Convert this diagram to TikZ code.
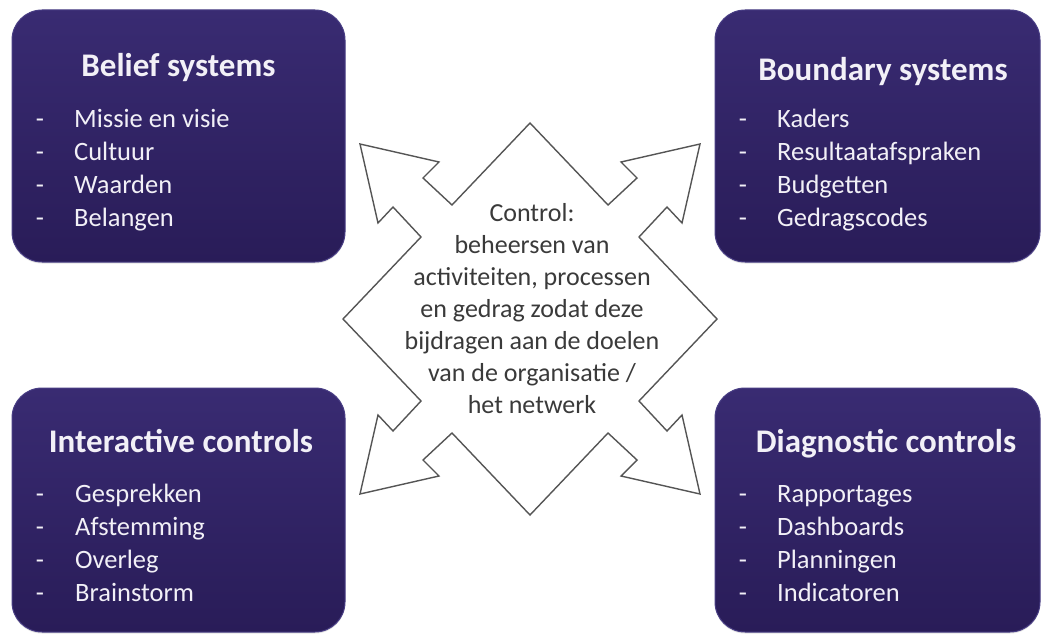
\documentclass[tikz,border=0pt]{standalone}
\usepackage{fontspec}
\setmainfont{Carlito}
\usetikzlibrary{shadows}
\definecolor{boxtop}{HTML}{392B72}
\definecolor{boxbot}{HTML}{291C58}
\definecolor{boxedge}{HTML}{483D84}
\definecolor{txtw}{HTML}{F2F0F7}
\definecolor{ctext}{HTML}{3A3A3A}
\definecolor{arrline}{HTML}{555555}
\begin{document}
\begin{tikzpicture}[x=1pt,y=-1pt,
  box/.style={rounded corners=30pt, top color=boxtop, bottom color=boxbot, draw=boxedge, line width=1pt,
    minimum width=330pt, minimum height=250pt, inner sep=0pt,
    drop shadow={opacity=0.22,shadow xshift=0pt,shadow yshift=-1.5pt}},
  title/.style={anchor=base, text=txtw, font=\fontsize{33}{39}\selectfont\bfseries, inner sep=0pt},
  item/.style={anchor=base west, text=txtw, font=\fontsize{26.5}{31}\selectfont, inner sep=0pt},
  bullet/.style={anchor=base, text=txtw, font=\fontsize{26.5}{31}\selectfont, inner sep=0pt},
  arrshape/.style={draw=arrline, line width=1.4pt, fill=white, line join=miter},
  ctxt/.style={align=center, text=ctext, font=\fontsize{26}{32}\selectfont, inner sep=0pt}
]
\fill[white] (0,0) rectangle (1043,634);
\useasboundingbox (0,0) rectangle (1043,634);

% boxes
\node[box, minimum width=333pt, minimum height=252pt] (bs) at (178.5,136) {};
\node[box, minimum width=325pt, minimum height=252pt] (bd) at (877.5,136) {};
\node[box, minimum width=333pt, minimum height=244pt] (ic) at (178.5,510) {};
\node[box, minimum width=325pt, minimum height=244pt] (dc) at (877.5,510) {};

% titles
\node[title] (bs-t) at (178.5,77) {Belief systems};
\node[title] (bd-t) at (883,81) {Boundary systems};
\node[title] (ic-t) at (181,452) {Interactive controls};
\node[title] (dc-t) at (886,452) {Diagnostic controls};

% items
\foreach \t [count=\i] in {Missie en visie, Cultuur, Waarden, Belangen} {
  \node[bullet] (bs-d\i) at (40,{127+33*(\i-1)}) {-};
  \node[item] (bs-i\i) at (74,{127+33*(\i-1)}) {\t};
}
\foreach \t [count=\i] in {Kaders, Resultaatafspraken, Budgetten, Gedragscodes} {
  \node[bullet] (bd-d\i) at (743,{127+33*(\i-1)}) {-};
  \node[item] (bd-i\i) at (777,{127+33*(\i-1)}) {\t};
}
\foreach \t [count=\i] in {Gesprekken, Afstemming, Overleg, Brainstorm} {
  \node[bullet] (ic-d\i) at (40,{502+33*(\i-1)}) {-};
  \node[item] (ic-i\i) at (75,{502+33*(\i-1)}) {\t};
}
\foreach \t [count=\i] in {Rapportages, Dashboards, Planningen, Indicatoren} {
  \node[bullet] (dc-d\i) at (743,{502+33*(\i-1)}) {-};
  \node[item] (dc-i\i) at (777,{502+33*(\i-1)}) {\t};
}

% central four-way arrow
\begin{scope}[shift={(530,319)}]
\draw[arrshape] (0,-196)
  -- (78,-114) -- (107,-141) -- (91,-157) -- (170,-175) -- (152,-96) -- (137,-112) -- (109,-82)
  -- (187,0)
  -- (109,82) -- (137,112) -- (152,96) -- (170,175) -- (91,157) -- (107,141) -- (78,114)
  -- (0,196)
  -- (-78,114) -- (-107,141) -- (-91,157) -- (-170,175) -- (-152,96) -- (-137,112) -- (-109,82)
  -- (-187,0)
  -- (-109,-82) -- (-137,-112) -- (-152,-96) -- (-170,-175) -- (-91,-157) -- (-107,-141) -- (-78,-114)
  -- cycle;
\end{scope}

\node[ctxt] (ctl) at (532,309) {Control:\\beheersen van\\activiteiten, processen\\en gedrag zodat deze\\bijdragen aan de doelen\\van de organisatie /\\het netwerk};
\end{tikzpicture}
\end{document}
